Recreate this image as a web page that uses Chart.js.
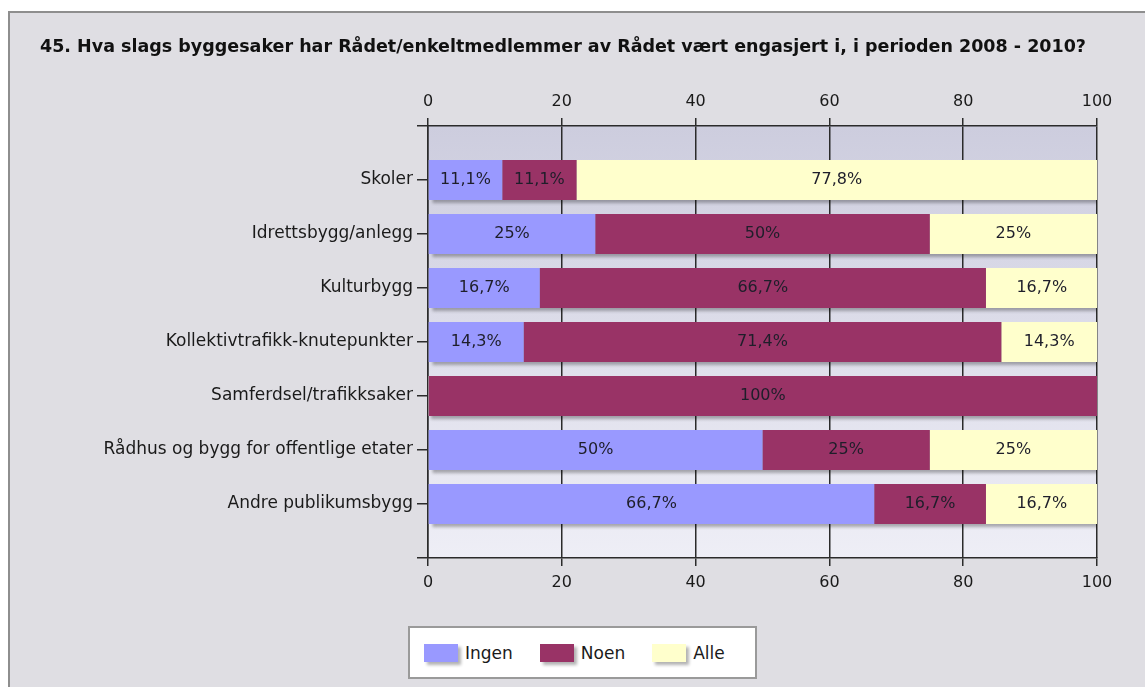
<!DOCTYPE html>
<html lang="no">
<head>
<meta charset="utf-8">
<title>Byggesaker 2008 - 2010</title>
<script src="https://cdn.jsdelivr.net/npm/chart.js@4.4.1/dist/chart.umd.min.js"></script>
<style>
  html, body { margin: 0; padding: 0; background: #fff; }
  #ramme { position: relative; width: 1145px; height: 687px; overflow: hidden; }
  #graf { position: absolute; left: 0; top: 0; }
  #forklaring {
    position: absolute; left: 408px; top: 626px; width: 349px; height: 53px;
    background: #fff; border: 2px solid #9a9a9a; box-sizing: border-box;
    display: flex; align-items: center; padding-left: 14px;
    font-family: "DejaVu Sans", sans-serif; font-size: 17px; color: #1a1a1a;
  }
  #forklaring .boks { width: 34px; height: 18px; margin-right: 7px; box-shadow: 3px 3px 3px rgba(0,0,0,0.3); }
  #forklaring .tekst { margin-right: 27px; }
</style>
</head>
<body>
<div id="ramme">
  <canvas id="graf" width="1145" height="687"></canvas>
  <div id="forklaring"></div>
</div>
<script>
// Data lest av figuren
const tittel = "45. Hva slags byggesaker har Rådet/enkeltmedlemmer av Rådet vært engasjert i, i perioden 2008 - 2010?";
const kategorier = [
    "Skoler",
    "Idrettsbygg/anlegg",
    "Kulturbygg",
    "Kollektivtrafikk-knutepunkter",
    "Samferdsel/trafikksaker",
    "Rådhus og bygg for offentlige etater",
    "Andre publikumsbygg"
];
const ingen = [11.1, 25, 16.7, 14.3, 0, 50, 66.7];
const noen  = [11.1, 50, 66.7, 71.4, 100, 25, 16.7];
const alle  = [77.8, 25, 16.7, 14.3, 0, 25, 16.7];
const serieNavn = ["Ingen", "Noen", "Alle"];
const xTicks = [0, 20, 40, 60, 80, 100];

const farger = ["#9999ff", "#993366", "#ffffcc"];
const linjeFarge = "#2b2b2b";
const tekstFarge = "#1a1a1a";
const tittelStr = 17.5;

// tom kategori før og etter, slik at aksen får luft over og under søylene
const etiketter = ["", ...kategorier, ""];
const pad = arr => [null, ...arr, null];

const serier = [ingen, noen, alle];

// Forklaring (HTML)
const forklaring = document.getElementById("forklaring");
serieNavn.forEach((navn, i) => {
    const b = document.createElement("span");
    b.className = "boks";
    b.style.background = farger[i];
    const t = document.createElement("span");
    t.className = "tekst";
    t.textContent = navn;
    forklaring.appendChild(b);
    forklaring.appendChild(t);
});

const bakgrunn = {
    id: "bakgrunn",
    beforeDraw(chart) {
        const { ctx, chartArea: a } = chart;
        ctx.save();
        ctx.fillStyle = "#ffffff";
        ctx.fillRect(0, 0, chart.width, chart.height);
        ctx.fillStyle = "#dfdee3";
        ctx.fillRect(10, 13, chart.width, chart.height);
        ctx.strokeStyle = "#8e8e8e";
        ctx.lineWidth = 2;
        ctx.strokeRect(9, 12, chart.width + 20, chart.height + 20);
        const g = ctx.createLinearGradient(0, a.top, 0, a.bottom);
        g.addColorStop(0, "#cdcdde");
        g.addColorStop(1, "#eeeef6");
        ctx.fillStyle = g;
        ctx.fillRect(a.left, a.top, a.right - a.left, a.bottom - a.top);
        ctx.restore();
    }
};

// skygge under hele søylen, så tall på søylene
const skyggeOgTall = {
    id: "skyggeOgTall",
    beforeDatasetsDraw(chart) {
        const ctx = chart.ctx;
        const a = chart.chartArea;
        const metas = chart.data.datasets.map((_, i) => chart.getDatasetMeta(i));
        ctx.save();
        ctx.beginPath();
        ctx.rect(a.left, a.top, a.right - a.left, a.bottom - a.top);
        ctx.clip();
        ctx.shadowColor = "rgba(0,0,0,0.3)";
        ctx.shadowOffsetX = 3;
        ctx.shadowOffsetY = 3;
        ctx.shadowBlur = 3;
        ctx.fillStyle = "#999";
        etiketter.forEach((_, j) => {
            let x0 = Infinity, x1 = -Infinity, y = null, h = 0;
            metas.forEach(m => {
                const bar = m.data[j];
                if (!bar || chart.data.datasets[m.index].data[j] == null) return;
                x0 = Math.min(x0, bar.base, bar.x);
                x1 = Math.max(x1, bar.base, bar.x);
                y = bar.y; h = bar.height;
            });
            if (y === null) return;
            ctx.fillRect(x0, y - h / 2, Math.min(x1, a.right) - x0, h);
        });
        ctx.restore();
    },
    afterDatasetsDraw(chart) {
        const ctx = chart.ctx;
        ctx.save();
        ctx.font = '16px "DejaVu Sans"';
        ctx.fillStyle = "#1e1e2a";
        ctx.textAlign = "center";
        ctx.textBaseline = "middle";
        chart.data.datasets.forEach((ds, i) => {
            chart.getDatasetMeta(i).data.forEach((bar, j) => {
                const v = ds.data[j];
                if (!v) return;
                ctx.fillText(String(v).replace(".", ",") + "%", (bar.x + bar.base) / 2, bar.y);
            });
        });
        ctx.restore();
    }
};

const settTicks = scale => { scale.ticks = xTicks.map(v => ({ value: v })); };
const tickFont = { family: "DejaVu Sans", size: 16 };

new Chart(document.getElementById("graf"), {
    type: "bar",
    data: {
        labels: etiketter,
        datasets: serier.map((s, i) => ({
            label: serieNavn[i],
            data: pad(s),
            backgroundColor: farger[i],
            borderWidth: 0,
            barPercentage: 0.74,
            categoryPercentage: 1
        }))
    },
    options: {
        indexAxis: "y",
        responsive: false,
        animation: false,
        layout: { padding: { left: 40, right: 48, top: 37, bottom: 0 } },
        plugins: {
            legend: { display: false },
            tooltip: { enabled: false },
            title: {
                display: true,
                text: tittel,
                align: "start",
                color: "#111",
                font: { family: "DejaVu Sans", size: tittelStr, weight: "bold" },
                padding: { top: 0, bottom: 10 }
            }
        },
        scales: {
            x: {
                type: "linear",
                position: "top",
                stacked: true,
                min: 0,
                max: 100,
                afterBuildTicks: settTicks,
                afterFit: s => { s.height = 126 - 37 - tittelStr * 1.2 - 10; },
                grid: { color: linjeFarge, lineWidth: 1.5, tickLength: 8 },
                border: { color: linjeFarge, width: 1.5 },
                ticks: { padding: 7, color: tekstFarge, font: tickFont }
            },
            x2: {
                type: "linear",
                axis: "x",
                position: "bottom",
                min: 0,
                max: 100,
                afterBuildTicks: settTicks,
                afterFit: s => { s.height = 687 - 558; },
                grid: { drawOnChartArea: false, color: linjeFarge, lineWidth: 1.5, tickLength: 8 },
                border: { color: linjeFarge, width: 1.5 },
                ticks: { padding: 7, color: tekstFarge, font: tickFont }
            },
            y: {
                type: "category",
                stacked: true,
                offset: false,
                afterFit: s => { s.width = 428 - 40; },
                grid: { offset: false, drawOnChartArea: false, color: linjeFarge, lineWidth: 1.5, tickLength: 11 },
                border: { color: linjeFarge, width: 1.5 },
                ticks: { padding: 4, autoSkip: false, color: tekstFarge, font: { family: "DejaVu Sans", size: 17 } }
            }
        }
    },
    plugins: [bakgrunn, skyggeOgTall]
});
</script>
</body>
</html>
